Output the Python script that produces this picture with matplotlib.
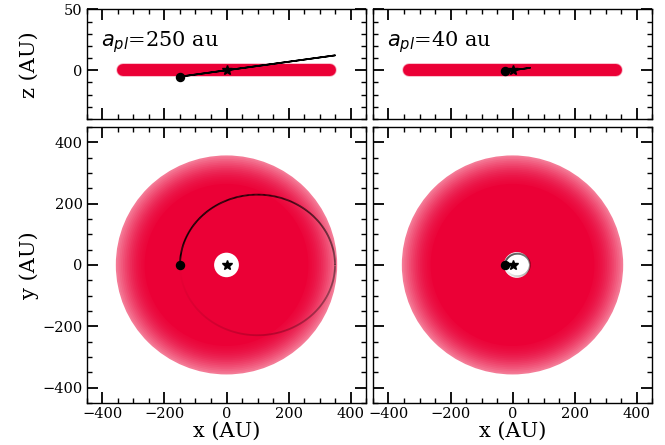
import numpy as np
import matplotlib
matplotlib.use("Agg")
import matplotlib.pyplot as plt
from matplotlib.patches import Circle
from matplotlib.collections import LineCollection
from matplotlib.ticker import MultipleLocator

plt.rcParams['font.family'] = ['DejaVu Serif']
plt.rcParams['mathtext.fontset'] = 'dejavusans'

# ---- data ----
panel_labels = ["250 au", "40 au"]
a_pl = [250.0, 40.0]          # planet semi-major axis (au)
e_pl = [0.4, 0.4]             # eccentricity
tan_inc = [0.035, 0.035]      # slope of orbit in x-z plane
disk_r_out = [357.0, 357.0]   # outer radius of debris disc (au)
hole_x = [0.0, 14.0]          # centre of cleared hole (au)
hole_r = [40.0, 42.0]         # radius of cleared hole (au)
xticks_major = [-400, -200, 0, 200, 400]

RED = '#eb0036'

fig = plt.figure(figsize=(6.65, 4.45), dpi=100)
gs = fig.add_gridspec(2, 2, left=0.1308, right=0.9805, top=0.9787, bottom=0.0944,
                      height_ratios=[109.5, 276.3], wspace=0.025, hspace=0.0415)

def style(ax, ymaj, ymin):
    ax.set_xticks(xticks_major)
    ax.xaxis.set_minor_locator(MultipleLocator(50))
    ax.yaxis.set_major_locator(MultipleLocator(ymaj))
    ax.yaxis.set_minor_locator(MultipleLocator(ymin))
    ax.tick_params(which='both', direction='in', top=True, right=True, labelsize=10.5)
    ax.tick_params(which='major', length=8, width=1.3, pad=3)
    ax.tick_params(which='minor', length=3.5, width=1.0)
    for s in ax.spines.values():
        s.set_linewidth(1.0)

def orbit(a, e):
    E = np.linspace(0, 2*np.pi, 400)
    b = a*np.sqrt(1-e**2)
    x = -a*(np.cos(E) - e)
    y = b*np.sin(E)
    age = (E - e*np.sin(E))/(2*np.pi)
    return x, y, age

n_rings = 16
for j in range(2):
    axt = fig.add_subplot(gs[0, j])
    axb = fig.add_subplot(gs[1, j])
    R = disk_r_out[j]
    # ---- top: edge-on disc ----
    axt.plot([-R+22, R-22], [0, 0], color=RED, lw=9.8, alpha=0.3,
             solid_capstyle='round', zorder=1)
    axt.plot([-R+22, R-22], [0, 0], color=RED, lw=8.6,
             solid_capstyle='round', zorder=1)
    x, y, age = orbit(a_pl[j], e_pl[j])
    z = x*tan_inc[j]
    axt.plot(x, z, color='k', lw=1.2, zorder=3)
    axt.plot([x[0]], [z[0]], 'o', color='k', ms=5.8, zorder=4)
    axt.plot([0], [0], '*', color='k', ms=7, zorder=4)
    axt.set_xlim(-450, 450)
    axt.set_ylim(-40, 50)
    style(axt, 50, 10)
    axt.tick_params(labelbottom=False)
    axt.text(0.05, 0.66, r"$a_{pl}$=" + panel_labels[j], transform=axt.transAxes,
             fontsize=15, va='baseline', ha='left')

    # ---- bottom: face-on disc (soft fringe made of nested translucent discs) ----
    r_core = 0.74*R
    radii = np.linspace(R, r_core, n_rings + 1)   # outside -> inside
    prev = 0.0
    for k, r in enumerate(radii):
        t = 1 - k/n_rings                        # 1 at edge, 0 at core
        target = 0.97 - 0.45*t**1.6 if k < n_rings else 1.0
        al = 1.0 - (1.0 - target)/(1.0 - prev) if prev < 1 else 1.0
        al = float(np.clip(al, 0, 1))
        axb.add_patch(Circle((0, 0), r, facecolor=RED, edgecolor='none',
                             alpha=al, zorder=1))
        prev = target
    axb.add_patch(Circle((hole_x[j], 0), hole_r[j], facecolor='white',
                         edgecolor='none', zorder=2))
    pts = np.column_stack([x, y]).reshape(-1, 1, 2)
    segs = np.concatenate([pts[:-1], pts[1:]], axis=1)
    cols = np.zeros((len(segs), 4))
    cols[:, 3] = np.clip(1.0 - age[:-1], 0, 1)
    lc = LineCollection(segs, colors=cols, linewidths=1.3, zorder=3)
    axb.add_collection(lc)
    axb.plot([x[0]], [y[0]], 'o', color='k', ms=5.8, zorder=4)
    axb.plot([0], [0], '*', color='k', ms=7, zorder=4)
    axb.set_xlim(-450, 450)
    axb.set_ylim(-450, 450)
    style(axb, 200, 50)
    axb.set_xlabel("x (AU)", fontsize=15)
    axb.xaxis.set_label_coords(0.5, -0.068)
    if j == 0:
        axt.set_ylabel("z (AU)", fontsize=15)
        axb.set_ylabel("y (AU)", fontsize=15)
        axt.yaxis.set_label_coords(-0.172, 0.5)
        axb.yaxis.set_label_coords(-0.172, 0.5)
    else:
        axt.tick_params(labelleft=False)
        axb.tick_params(labelleft=False)

fig.savefig("out.png", dpi=100)
